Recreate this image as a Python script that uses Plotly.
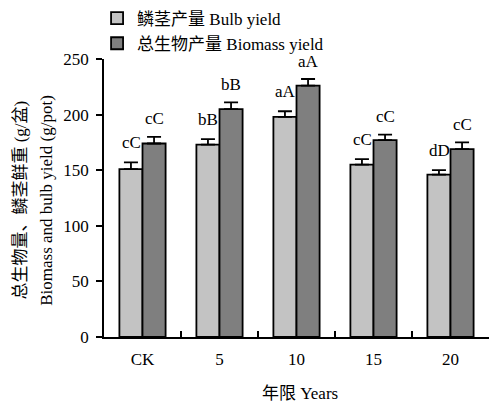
import plotly.graph_objects as go

categories = ["CK", "5", "10", "15", "20"]
bulb = [151, 173, 198, 155, 146]
bulb_err = [6, 5, 5, 5, 4]
biomass = [174, 205, 226, 177, 169]
biomass_err = [6, 6, 6, 5, 6]
bulb_labels = ["cC", "bB", "aA", "cC", "dD"]
biomass_labels = ["cC", "bB", "aA", "cC", "cC"]
y_ticks = [0, 50, 100, 150, 200, 250]

FONT = "Liberation Serif, 'Times New Roman', 'Noto Sans CJK SC', serif"
FS = 17

fig = go.Figure()
fig.add_trace(go.Bar(
    x=categories, y=bulb, name="鳞茎产量 Bulb yield",
    marker=dict(color="#c3c3c3", line=dict(color="black", width=1.8)),
    error_y=dict(type="data", array=bulb_err, arrayminus=[0]*len(bulb_err),
                 symmetric=False, color="black", thickness=1.8, width=7),
))
fig.add_trace(go.Bar(
    x=categories, y=biomass, name="总生物产量 Biomass yield",
    marker=dict(color="#7f7f7f", line=dict(color="black", width=1.8)),
    error_y=dict(type="data", array=biomass_err, arrayminus=[0]*len(biomass_err),
                 symmetric=False, color="black", thickness=1.8, width=7),
))

annotations = []
for i, (v, e, t) in enumerate(zip(bulb, bulb_err, bulb_labels)):
    annotations.append(dict(x=i, y=v + e, text=t, showarrow=False, xref="x", yref="y",
                            xshift=-11.5, yshift=20, yanchor="middle",
                            font=dict(family=FONT, size=FS, color="black")))
for i, (v, e, t) in enumerate(zip(biomass, biomass_err, biomass_labels)):
    annotations.append(dict(x=i, y=v + e, text=t, showarrow=False, xref="x", yref="y",
                            xshift=11.5, yshift=18, yanchor="middle",
                            font=dict(family=FONT, size=FS, color="black")))

# axis titles
annotations.append(dict(text="总生物量、鳞茎鲜重 (g/盆)", textangle=-90, showarrow=False,
                        xref="paper", yref="paper", x=-0.218, y=0.491,
                        xanchor="center", yanchor="middle",
                        font=dict(family=FONT, size=FS, color="black")))
annotations.append(dict(text="Biomass and bulb yield (g/pot)", textangle=-90, showarrow=False,
                        xref="paper", yref="paper", x=-0.15, y=0.491,
                        xanchor="center", yanchor="middle",
                        font=dict(family=FONT, size=FS, color="black")))
annotations.append(dict(text="年限 Years", showarrow=False,
                        xref="paper", yref="paper", x=0.509, y=-0.203,
                        xanchor="center", yanchor="middle",
                        font=dict(family=FONT, size=FS, color="black")))

fig.update_layout(
    width=490, height=407,
    margin=dict(l=104, r=1, t=56, b=70),
    paper_bgcolor="white", plot_bgcolor="white",
    barmode="group", bargap=0.4, bargroupgap=0,
    font=dict(family=FONT, size=FS, color="black"),
    showlegend=True,
    legend=dict(x=-0.018, y=1.21, xanchor="left", yanchor="top",
                bgcolor="rgba(0,0,0,0)", font=dict(family=FONT, size=FS),
                tracegroupgap=0),
    annotations=annotations,
    xaxis=dict(type="category", categoryorder="array", categoryarray=categories,
               range=[-0.5, len(categories) - 0.5],
               showline=True, linecolor="black", linewidth=1.8,
               ticks="inside", tickson="boundaries", ticklen=6, tickwidth=1.8,
               tickcolor="black", showgrid=False, zeroline=False, tickangle=0,
               ticklabelstandoff=6, tickfont=dict(family=FONT, size=FS)),
    yaxis=dict(range=[0, 250], tickvals=y_ticks, showline=True, linecolor="black",
               linewidth=1.8, ticks="outside", ticklen=6, tickwidth=1.8,
               tickcolor="black", showgrid=False, zeroline=False,
               ticklabelstandoff=4, tickfont=dict(family=FONT, size=FS)),
)

fig.write_html("out.html", config={"displayModeBar": False},
               post_script="document.body.style.margin='0';document.body.style.overflow='hidden';")
